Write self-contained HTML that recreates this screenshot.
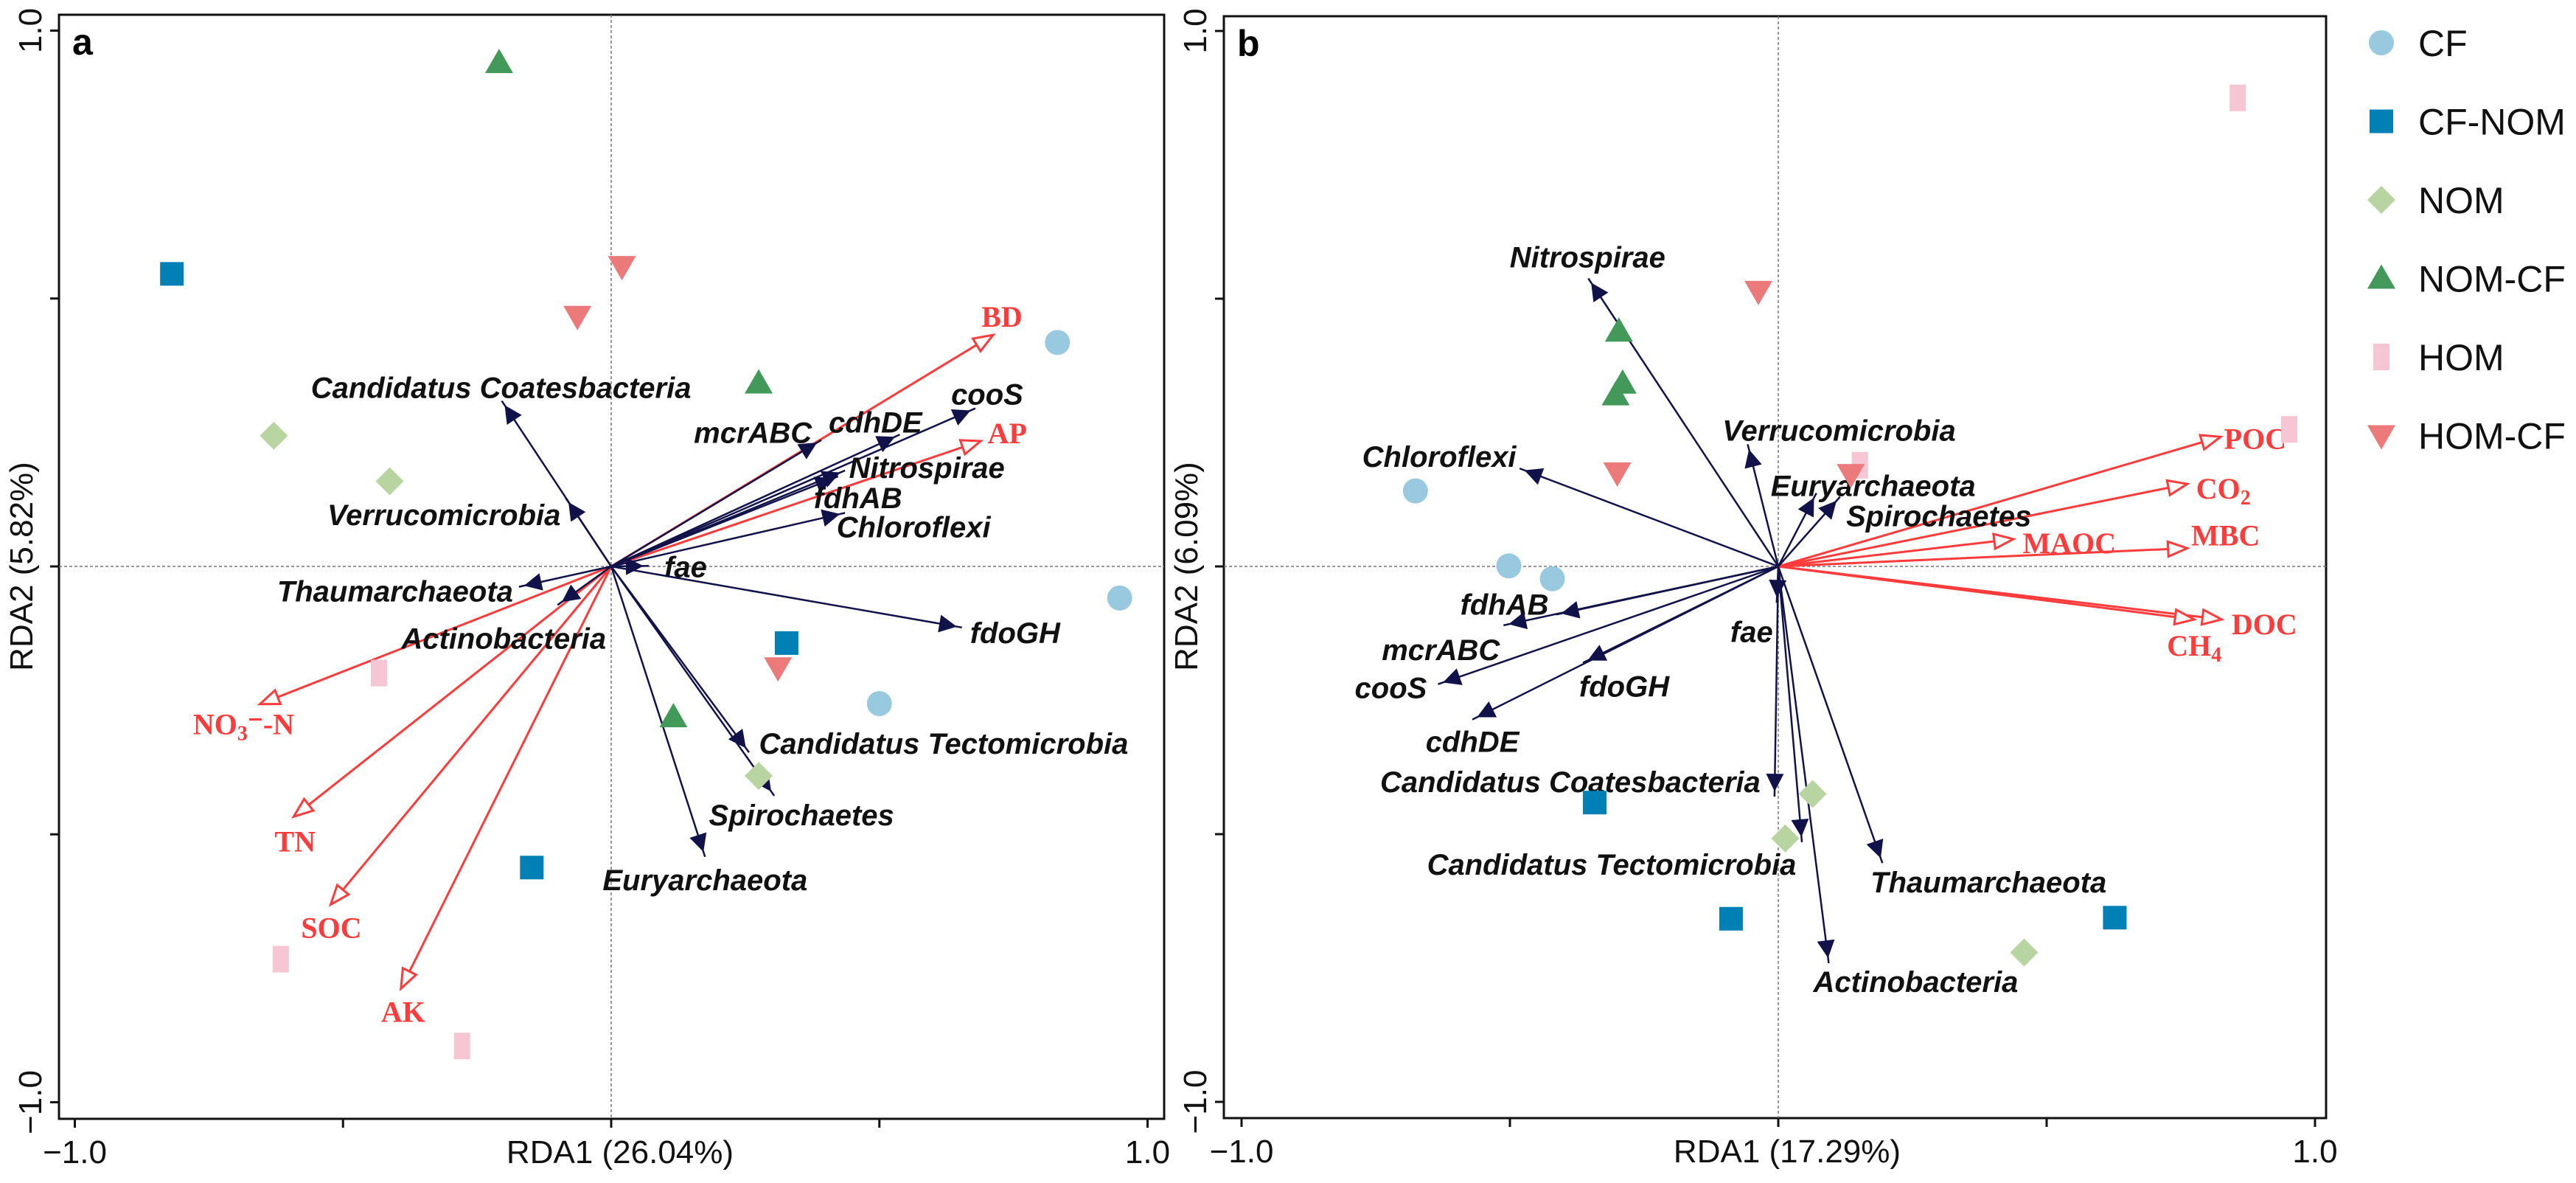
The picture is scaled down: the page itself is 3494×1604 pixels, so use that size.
<!DOCTYPE html>
<html><head><meta charset="utf-8"><style>
html,body{margin:0;padding:0;background:#fff}
svg{display:block}
.sp{font:italic bold 40px "Liberation Sans",sans-serif;fill:#111}
.env{font:bold 40px "Liberation Serif",serif;fill:#ff3b3b}
.ax{font:44px "Liberation Sans",sans-serif;fill:#111}
.lg{font:50px "Liberation Sans",sans-serif;fill:#111}
</style></head><body>
<svg id="chart" width="3494" height="1604" viewBox="0 0 3494 1604" xmlns="http://www.w3.org/2000/svg">
<defs>
<marker id="hs" markerWidth="10" markerHeight="8" refX="9" refY="4" orient="auto" markerUnits="userSpaceOnUse" viewBox="0 0 10 8" style="overflow:visible"><path d="M-22,-8 L2,4 L-22,16 Z" fill="#12124a"/></marker>
<marker id="he" markerWidth="10" markerHeight="8" refX="0" refY="0" orient="auto" markerUnits="userSpaceOnUse" style="overflow:visible"><path d="M-26,-10 L0,0 L-26,10 Z" fill="#fff" stroke="#ff3b3b" stroke-width="3"/></marker>
</defs>
<g id="layer"></g>
</svg>
<script>
// ---- Panel a data ----
const groups = ["CF","CF-NOM","NOM","NOM-CF","HOM","HOM-CF"];
const aSampleX = {"CF":[0.832,0.948,0.500],"CF-NOM":[-0.819,0.327,-0.148],"NOM":[-0.629,-0.413,0.275],"NOM-CF":[-0.209,0.275,0.116],"HOM":[-0.433,-0.616,-0.278],"HOM-CF":[0.020,-0.063,0.311]};
const aSampleY = {"CF":[0.418,-0.059,-0.256],"CF-NOM":[0.546,-0.143,-0.562],"NOM":[0.244,0.159,-0.391],"NOM-CF":[0.940,0.342,-0.281],"HOM":[-0.199,-0.733,-0.895],"HOM-CF":[0.560,0.467,-0.189]};
const aEnvNames = ["BD","AP","NO3-N","TN","SOC","AK"];
const aEnvX = [0.712,0.689,-0.655,-0.592,-0.523,-0.392];
const aEnvY = [0.432,0.234,-0.257,-0.467,-0.631,-0.788];
const aSpNames = ["Candidatus Coatesbacteria","Verrucomicrobia","mcrABC","cdhDE","cooS","Nitrospirae","fdhAB","Chloroflexi","fae","Thaumarchaeota","Actinobacteria","fdoGH","Candidatus Tectomicrobia","Spirochaetes","Euryarchaeota"];
const aSpX = [-0.204,-0.085,0.392,0.538,0.679,0.436,0.423,0.436,0.070,-0.172,-0.100,0.654,0.257,0.304,0.175];
const aSpY = [0.309,0.128,0.236,0.246,0.295,0.179,0.168,0.100,0.001,-0.038,-0.072,-0.114,-0.347,-0.428,-0.542];
// ---- Panel b data ----
const bSampleX = {"CF":[-0.676,-0.502,-0.421],"CF-NOM":[-0.342,-0.088,0.627],"NOM":[0.064,0.013,0.458],"NOM-CF":[-0.297,-0.290,-0.303],"HOM":[0.856,0.952,0.152],"HOM-CF":[-0.037,-0.300,0.135]};
const bSampleY = {"CF":[0.141,0.001,-0.023],"CF-NOM":[-0.441,-0.658,-0.656],"NOM":[-0.425,-0.508,-0.721],"NOM-CF":[0.439,0.342,0.320],"HOM":[0.875,0.256,0.189],"HOM-CF":[0.514,0.175,0.172]};
const bEnvNames = ["POC","CO2","MAOC","MBC","DOC","CH4"];
const bEnvX = [0.824,0.762,0.438,0.762,0.826,0.775];
const bEnvY = [0.242,0.154,0.051,0.034,-0.099,-0.099];
const bSpNames = ["Nitrospirae","Chloroflexi","Verrucomicrobia","Euryarchaeota","Spirochaetes","fdhAB","mcrABC","cooS","fdoGH","cdhDE","fae","Candidatus Coatesbacteria","Candidatus Tectomicrobia","Thaumarchaeota","Actinobacteria"];
const bSpX = [-0.354,-0.482,-0.057,0.071,0.115,-0.414,-0.512,-0.634,-0.364,-0.570,-0.003,-0.007,0.044,0.194,0.094];
const bSpY = [0.538,0.183,0.228,0.137,0.130,-0.090,-0.110,-0.220,-0.180,-0.286,-0.068,-0.430,-0.515,-0.554,-0.741];
const tickVals = [-1,-0.5,0,0.5,1];
const tickLabels = ["\u22121.0","","","","1.0"];

// label offsets (layout only)
const aSpOff=[[-1,-18],[-165,23],[-93,-10],[-33,-17],[16,-19],[111,-4],[27,29],[93,19],[50,1],[-168,6],[-73,45],[72,7],[264,-12],[37,26],[0,31]];
const aEnvOff=[[12,-24],[36,-10],[-22,28],[2,34],[1,32],[3,32]];
const bSpOff=[[-1,-29],[-109,-16],[124,-19],[77,-10],[134,26],[-70,-14],[-85,33],[-64,5],[56,32],[0,30],[-34,39],[-277,-20],[-258,30],[144,26],[118,25]];
const bEnvOff=[[47,3],[49,7],[76,6],[52,-17],[58,7],[0,36]];
const colors={"CF":"#98c9df","CF-NOM":"#0080b5","NOM":"#b8d4a1","NOM-CF":"#43995a","HOM":"#f6c6d4","HOM-CF":"#ec7a7a"};
const NS="http://www.w3.org/2000/svg";
const layer=document.getElementById('layer');
function mk(tag,attrs,parent){const e=document.createElementNS(NS,tag);for(const k in attrs)e.setAttribute(k,attrs[k]);(parent||layer).appendChild(e);return e;}
function marker(g,x,y,p,nm){
  let e;const c=colors[g];
  if(g==="CF") e=mk('circle',{cx:x,cy:y,r:17,fill:c},p);
  else if(g==="CF-NOM") e=mk('rect',{x:x-16,y:y-16,width:32,height:32,fill:c},p);
  else if(g==="NOM") e=mk('polygon',{points:`${x},${y-19} ${x+19},${y} ${x},${y+19} ${x-19},${y}`,fill:c},p);
  else if(g==="NOM-CF") e=mk('polygon',{points:`${x},${y-19} ${x+19},${y+14} ${x-19},${y+14}`,fill:c},p);
  else if(g==="HOM") e=mk('rect',{x:x-11,y:y-18,width:22,height:36,fill:c},p);
  else e=mk('polygon',{points:`${x-19},${y-14} ${x+19},${y-14} ${x},${y+19}`,fill:c},p);
  
  
  return e;
}
function envLabel(t,name){
  if(name==="NO3-N"){t.innerHTML='NO<tspan font-size="28" dy="8">3</tspan><tspan dy="-8">\u207B-N</tspan>';}
  else if(name==="CO2"){t.innerHTML='CO<tspan font-size="28" dy="8">2</tspan>';}
  else if(name==="CH4"){t.innerHTML='CH<tspan font-size="28" dy="8">4</tspan>';}
  else t.textContent=name;
}
function panel(cfg){
  const g=mk('g',{});
  
  
  const sx=v=>cfg.x0+v*cfg.ux, sy=v=>cfg.y0-v*cfg.uy;
  const fr=mk('rect',{x:cfg.L,y:cfg.T,width:cfg.R-cfg.L,height:cfg.B-cfg.T,fill:'none',stroke:'#111','stroke-width':3},g);
  
  
  const zv=mk('line',{x1:sx(0),x2:sx(0),y1:cfg.T,y2:cfg.B,stroke:'#777','stroke-width':1.5,'stroke-dasharray':'4,3'},g);
  
  
  const zh=mk('line',{x1:cfg.L,x2:cfg.R,y1:sy(0),y2:sy(0),stroke:'#777','stroke-width':1.5,'stroke-dasharray':'4,3'},g);
  
  
  tickVals.forEach((v,i)=>{
    const tx=mk('line',{x1:sx(v),x2:sx(v),y1:cfg.B,y2:cfg.B+12,stroke:'#111','stroke-width':3},g);
    
    
    const ty=mk('line',{x1:cfg.L,x2:cfg.L-12,y1:sy(v),y2:sy(v),stroke:'#111','stroke-width':3},g);
    
    
    if(tickLabels[i]){
      const lx=mk('text',{x:sx(v),y:cfg.B+60,'text-anchor':'middle',class:'ax'},g);lx.textContent=tickLabels[i];
      
      
      const X=cfg.L-24,Y=sy(v);
      const ly=mk('text',{x:X,y:Y,'text-anchor':'middle',class:'ax',transform:`rotate(-90 ${X} ${Y})`},g);ly.textContent=tickLabels[i];
      
      
    }
  });
  const xt=mk('text',{x:sx(0)+12,y:cfg.B+60,'text-anchor':'middle',class:'ax'},g);xt.textContent=cfg.xTitle;
  
  
  const YX=cfg.L-36,YY=sy(0);
  const yt=mk('text',{x:YX,y:YY,'text-anchor':'middle',class:'ax',transform:`rotate(-90 ${YX} ${YY})`},g);yt.textContent=cfg.yTitle;
  
  
  const pl=mk('text',{x:cfg.L+18,y:cfg.T+54,style:'font:bold 50px "Liberation Sans",sans-serif'},g);pl.textContent=cfg.letter;
  
  
  cfg.envN.forEach((n,i)=>{
    const x=sx(cfg.envX[i]),y=sy(cfg.envY[i]);
    const a=mk('line',{x1:sx(0),y1:sy(0),x2:x,y2:y,stroke:'#ff3b3b','stroke-width':3,'marker-end':'url(#he)'},g);
    
    
    const t=mk('text',{x:x+cfg.envOff[i][0],y:y+cfg.envOff[i][1]+13,'text-anchor':'middle',class:'env'},g);
    envLabel(t,n);
    
    
  });
  cfg.spN.forEach((n,i)=>{
    const x=sx(cfg.spX[i]),y=sy(cfg.spY[i]);
    const a=mk('line',{x1:sx(0),y1:sy(0),x2:x,y2:y,stroke:'#12124a','stroke-width':2.5,'marker-end':'url(#hs)'},g);
    
    
    const t=mk('text',{x:x+cfg.spOff[i][0],y:y+cfg.spOff[i][1]+14,'text-anchor':'middle',class:'sp'},g);
    t.textContent=n;
    
    
  });
  groups.forEach(gr=>{
    cfg.sX[gr].forEach((v,j)=>{marker(gr,sx(v),sy(cfg.sY[gr][j]),g,'sample-'+gr.toLowerCase());});
  });
}
panel({id:'panel-a',letter:'a',L:80,R:1579,T:20,B:1517,x0:829,ux:727.5,y0:768,uy:726.5,xTitle:'RDA1 (26.04%)',yTitle:'RDA2 (5.82%)',
  envN:aEnvNames,envX:aEnvX,envY:aEnvY,envOff:aEnvOff,spN:aSpNames,spX:aSpX,spY:aSpY,spOff:aSpOff,sX:aSampleX,sY:aSampleY});
panel({id:'panel-b',letter:'b',L:1660,R:3155,T:22,B:1516,x0:2412,ux:728,y0:768,uy:726,xTitle:'RDA1 (17.29%)',yTitle:'RDA2 (6.09%)',
  envN:bEnvNames,envX:bEnvX,envY:bEnvY,envOff:bEnvOff,spN:bSpNames,spX:bSpX,spY:bSpY,spOff:bSpOff,sX:bSampleX,sY:bSampleY});
const lg=mk('g',{});


groups.forEach((gr,i)=>{
  const y=58+i*106.5;
  marker(gr,3230,y,lg,'legend-marker-'+gr.toLowerCase());
  const t=mk('text',{x:3280,y:y+18,class:'lg'},lg);t.textContent=gr;
  
  
});
</script>
</body></html>
